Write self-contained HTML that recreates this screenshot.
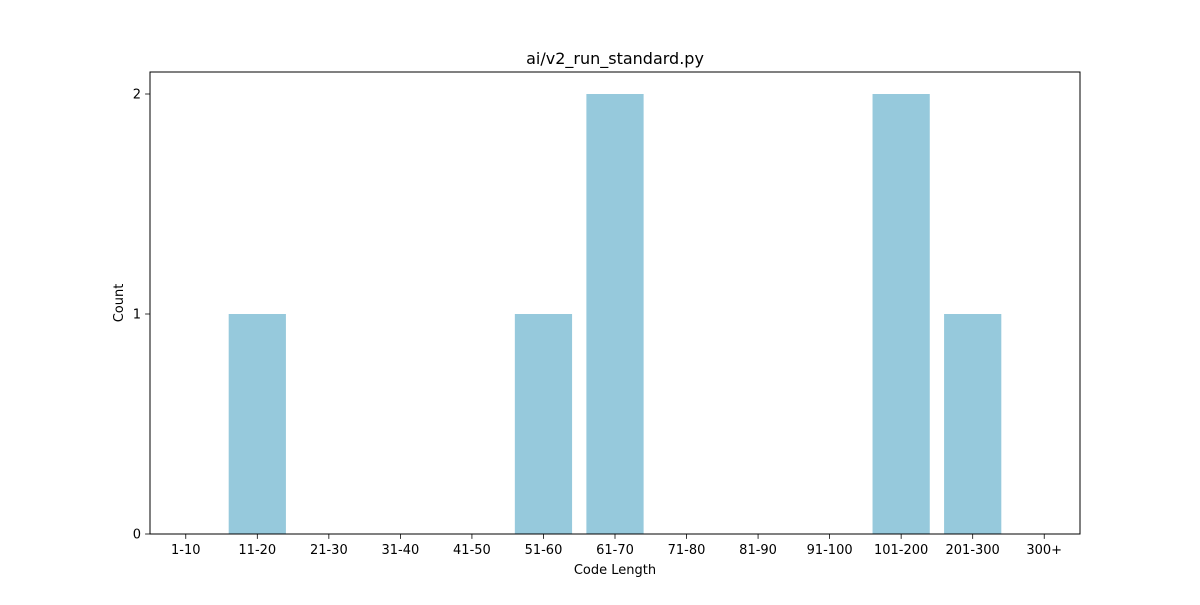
<!DOCTYPE html>
<html><head><meta charset="utf-8"><style>
html,body{margin:0;padding:0;background:#fff;}
svg text{font-family:"DejaVu Sans","Liberation Sans",sans-serif;fill:#000;}
</style></head><body>
<svg id="chart" width="1200" height="600" xmlns="http://www.w3.org/2000/svg"></svg>
<script>
const categories = ["1-10","11-20","21-30","31-40","41-50","51-60","61-70","71-80","81-90","91-100","101-200","201-300","300+"];
const counts = [0,1,0,0,0,1,2,0,0,0,2,1,0];
const yTicks = [0,1,2];
const titleText = "ai/v2_run_standard.py";

const svg = document.getElementById('chart');
const NS = 'http://www.w3.org/2000/svg';
const L = 150, R = 1080, T = 72, B = 534;
const xMin = -0.5, xMax = categories.length - 0.5, yMin = 0, yMax = 2.1;
function xs(v){ return L + (v - xMin) / (xMax - xMin) * (R - L); }
function ys(v){ return B - (v - yMin) / (yMax - yMin) * (B - T); }
function mk(tag, attrs){ const e = document.createElementNS(NS, tag); for (const k in attrs) e.setAttribute(k, attrs[k]); svg.appendChild(e); return e; }

counts.forEach((c, i) => {
  const x0 = xs(i - 0.4), x1 = xs(i + 0.4);
  const r = mk('rect', {x: x0, y: ys(c), width: x1 - x0, height: ys(0) - ys(c), fill: '#96c9dc'});
  
  
});

const frame = mk('rect', {x: L, y: T, width: R - L, height: B - T, fill: 'none', stroke: '#000', 'stroke-width': 1});



categories.forEach((c, i) => {
  const x = xs(i);
  const t = mk('line', {x1: x, x2: x, y1: B, y2: B + 4.9, stroke: '#000', 'stroke-width': 0.8});
  
  
  const l = mk('text', {x: x, y: B + 20, 'text-anchor': 'middle', 'font-size': 13});
  l.textContent = c;
  
  
});

yTicks.forEach(v => {
  const y = ys(v);
  const t = mk('line', {x1: L - 4.9, x2: L, y1: y, y2: y, stroke: '#000', 'stroke-width': 0.8});
  
  
  const l = mk('text', {x: L - 9, y: y + 4.5, 'text-anchor': 'end', 'font-size': 13});
  l.textContent = v;
  
  
});

const xt = mk('text', {x: (L + R) / 2, y: 574, 'text-anchor': 'middle', 'font-size': 13});
xt.textContent = 'Code Length';



const yt = mk('text', {x: 0, y: 0, 'text-anchor': 'middle', 'font-size': 13, transform: 'translate(123,' + ((T + B) / 2) + ') rotate(-90)'});
yt.textContent = 'Count';



const tt = mk('text', {x: (L + R) / 2, y: 64, 'text-anchor': 'middle', 'font-size': 16});
tt.textContent = titleText;


</script>
</body></html>
